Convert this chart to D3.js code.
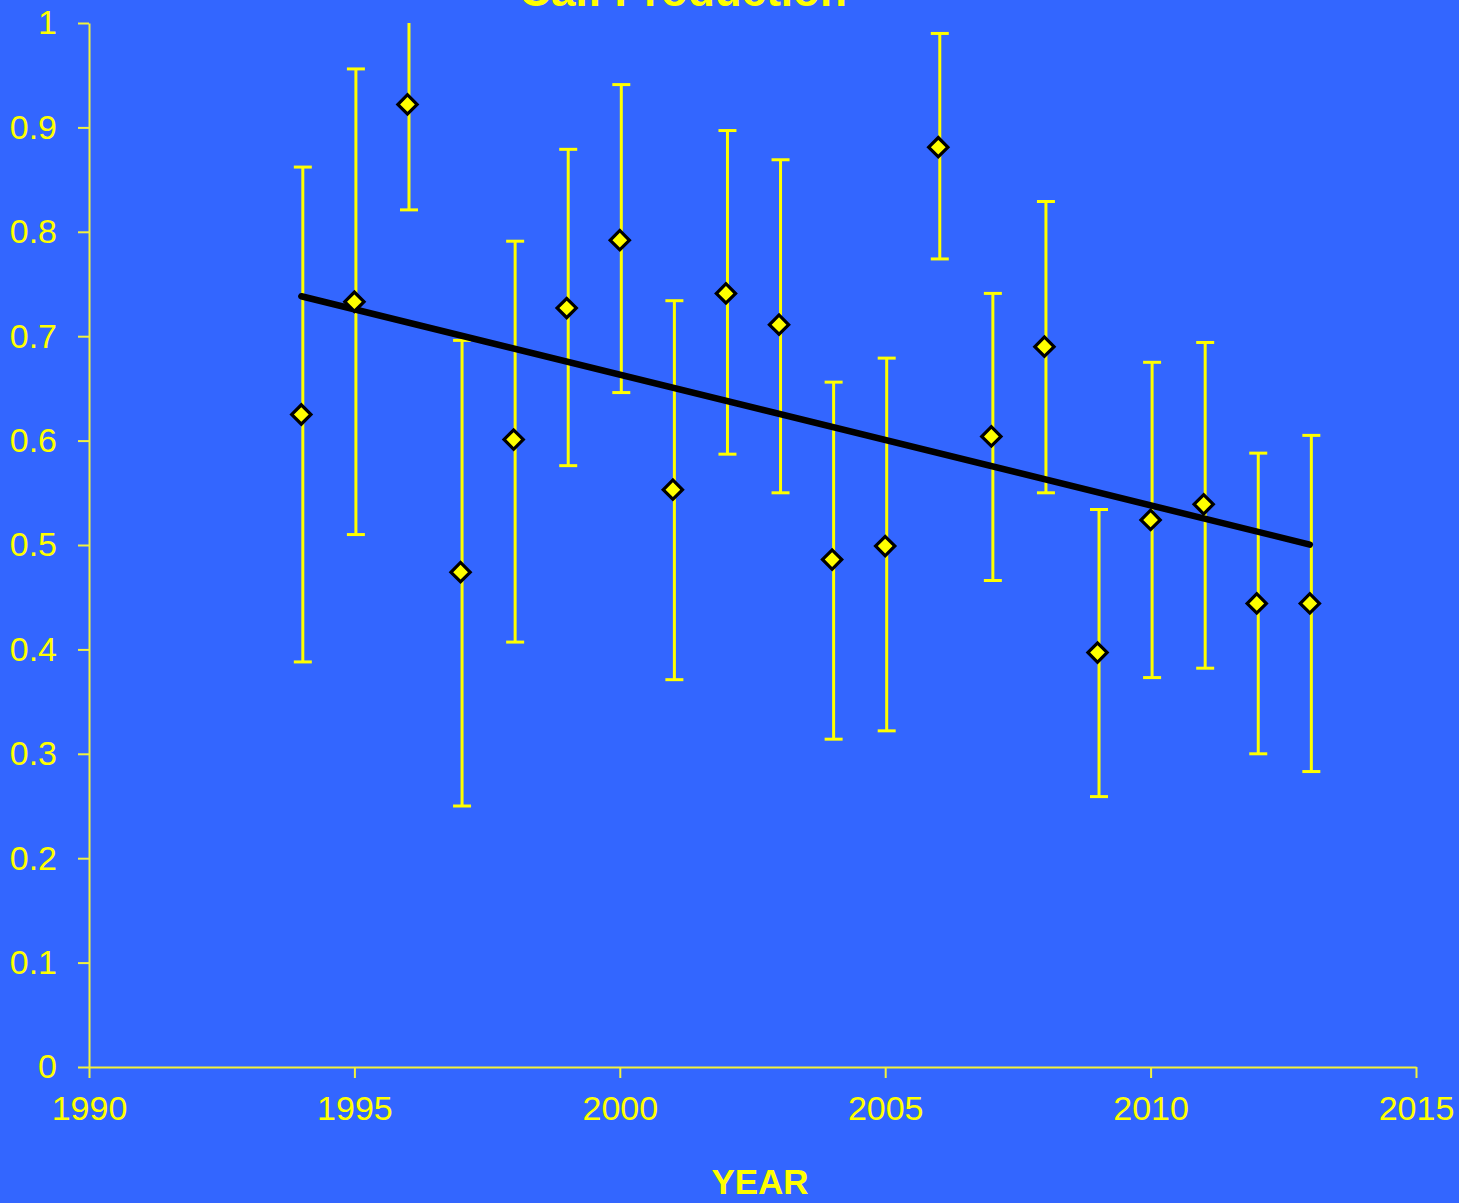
<!DOCTYPE html>
<html>
<head>
<meta charset="utf-8">
<script src="https://cdn.jsdelivr.net/npm/d3@7"></script>
<style>
  html, body { margin: 0; padding: 0; background: #3366FF; }
  svg { display: block; }
</style>
</head>
<body>
<svg id="chart" width="1459" height="1203"></svg>
<script>
// Calf production by year, with upper and lower error limits
const years = [1994, 1995, 1996, 1997, 1998, 1999, 2000, 2001, 2002, 2003,
               2004, 2005, 2006, 2007, 2008, 2009, 2010, 2011, 2012, 2013];
const values = [0.625, 0.733, 0.922, 0.474, 0.601, 0.727, 0.792, 0.553, 0.741, 0.711,
                0.486, 0.499, 0.881, 0.604, 0.690, 0.397, 0.524, 0.539, 0.444, 0.444];
const upper = [0.862, 0.956, 1.023, 0.696, 0.791, 0.879, 0.941, 0.734, 0.897, 0.869,
               0.656, 0.679, 0.990, 0.741, 0.829, 0.534, 0.675, 0.694, 0.588, 0.605];
const lower = [0.388, 0.510, 0.821, 0.250, 0.407, 0.576, 0.646, 0.371, 0.587, 0.550,
               0.314, 0.322, 0.774, 0.466, 0.550, 0.259, 0.373, 0.382, 0.300, 0.283];

const xTicks = [1990, 1995, 2000, 2005, 2010, 2015];
const yTicks = [0, 0.1, 0.2, 0.3, 0.4, 0.5, 0.6, 0.7, 0.8, 0.9, 1];
const yTickLabels = ["0", "0.1", "0.2", "0.3", "0.4", "0.5", "0.6", "0.7", "0.8", "0.9", "1"];

const YELLOW = "#FFFF00";
const AXIS = "#F2F23C";

const svg = d3.select("#chart");
const W = 1459, H = 1203;
const m = { left: 89, right: W - 1416, top: 23, bottom: H - 1067 };

const x = d3.scaleLinear().domain([1990, 2015]).range([m.left, W - m.right]);
const y = d3.scaleLinear().domain([0, 1]).range([H - m.bottom, m.top]);

svg.append("rect").attr("width", W).attr("height", H).attr("fill", "#3366FF");

svg.append("defs").append("clipPath").attr("id", "plot")
  .append("rect")
  .attr("x", m.left - 20).attr("y", m.top)
  .attr("width", W - m.left - m.right + 40).attr("height", H - m.top - m.bottom + 20);

// Axes
const xAxis = d3.axisBottom(x).tickValues(xTicks).tickFormat(d3.format("d"))
  .tickSize(11).tickSizeOuter(0).tickPadding(10);
const yAxis = d3.axisLeft(y).tickValues(yTicks).tickFormat((d, i) => yTickLabels[i])
  .tickSize(11).tickSizeOuter(0).tickPadding(21);

const gx = svg.append("g").attr("transform", `translate(0,${y(0)})`).call(xAxis);
const gy = svg.append("g").attr("transform", `translate(${x(1990)},0)`).call(yAxis);

[gx, gy].forEach(g => {
  g.select(".domain").attr("stroke", AXIS).attr("stroke-width", 2);
  g.selectAll(".tick line").attr("stroke", AXIS).attr("stroke-width", 2);
  g.selectAll(".tick text")
    .attr("fill", YELLOW)
    .attr("font-family", "Liberation Sans, Arial, sans-serif")
    .attr("font-size", 34);
});
gx.selectAll(".tick text").attr("dy", "0.95em");

// Error bars
const pts = years.map((yr, i) => ({ yr, v: values[i], hi: upper[i], lo: lower[i] }));
const bars = svg.append("g").attr("clip-path", "url(#plot)")
  .attr("stroke", YELLOW).attr("stroke-width", 3).attr("fill", "none");
const capW = 9, barDx = 1.5;
pts.forEach(p => {
  const cx = x(p.yr) + barDx;
  bars.append("line").attr("x1", cx).attr("x2", cx).attr("y1", y(p.hi)).attr("y2", y(p.lo));
  bars.append("line").attr("x1", cx - capW).attr("x2", cx + capW).attr("y1", y(p.hi)).attr("y2", y(p.hi));
  bars.append("line").attr("x1", cx - capW).attr("x2", cx + capW).attr("y1", y(p.lo)).attr("y2", y(p.lo));
});

// Least-squares trend line
const mx = d3.mean(years), my = d3.mean(values);
const slope = d3.sum(years, (d, i) => (d - mx) * (values[i] - my)) / d3.sum(years, d => (d - mx) ** 2);
const fit = t => my + slope * (t - mx);
const x0 = d3.min(years), x1 = d3.max(years);
svg.append("line")
  .attr("x1", x(x0)).attr("y1", y(fit(x0)))
  .attr("x2", x(x1)).attr("y2", y(fit(x1)))
  .attr("stroke", "#000").attr("stroke-width", 6.5).attr("stroke-linecap", "round");

// Diamond markers
const diamond = d3.symbol().type(d3.symbolSquare).size(185);
svg.append("g").selectAll("path").data(pts).join("path")
  .attr("d", diamond)
  .attr("transform", d => `translate(${x(d.yr)},${y(d.v)}) rotate(45)`)
  .attr("fill", YELLOW).attr("stroke", "#000").attr("stroke-width", 3.2);

// Titles
svg.append("text")
  .attr("x", 683).attr("y", 6)
  .attr("text-anchor", "middle")
  .attr("font-family", "Liberation Sans, Arial, sans-serif")
  .attr("font-weight", "bold").attr("font-size", 44)
  .attr("fill", YELLOW)
  .text("Calf Production");

svg.append("text")
  .attr("x", 760).attr("y", 1194)
  .attr("text-anchor", "middle")
  .attr("font-family", "Liberation Sans, Arial, sans-serif")
  .attr("font-weight", "bold").attr("font-size", 35)
  .attr("fill", YELLOW)
  .text("YEAR");
</script>
</body>
</html>
